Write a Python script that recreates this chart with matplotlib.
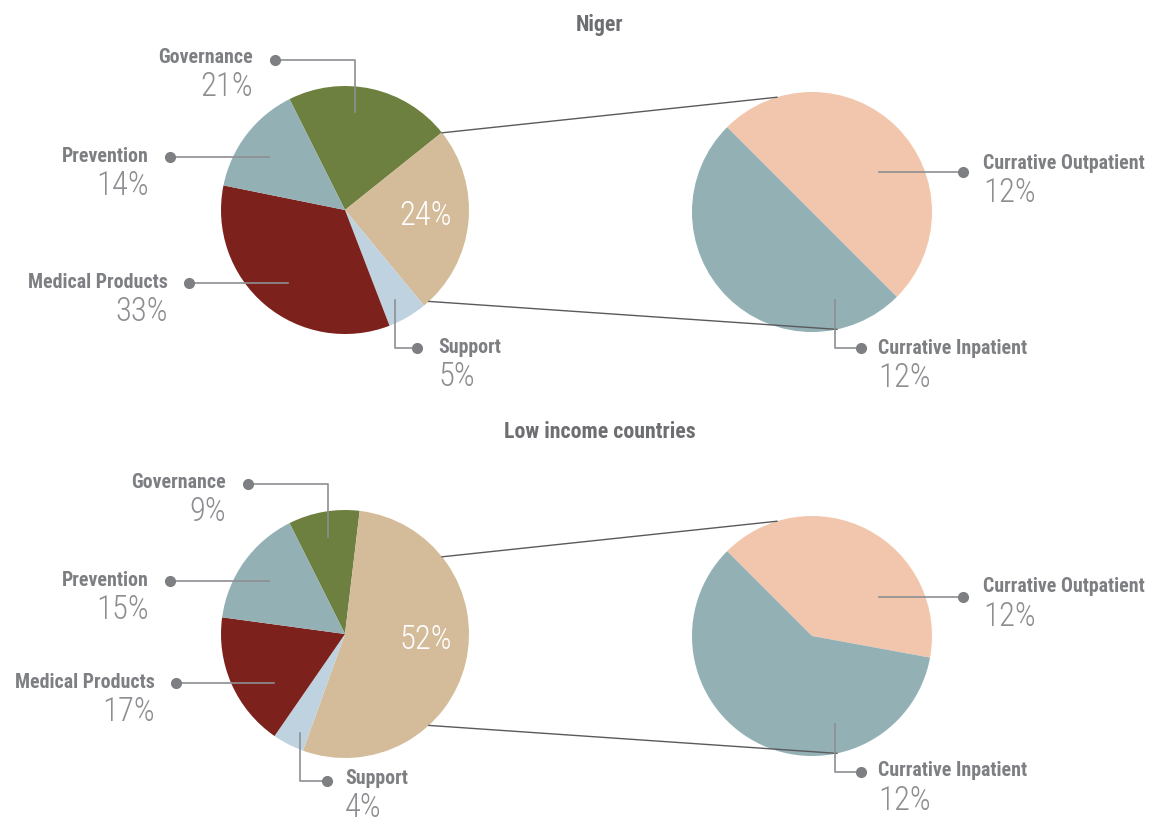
import matplotlib.pyplot as plt
from matplotlib import font_manager
import numpy as np

# --------------------------
# DATA
# --------------------------
categories = ["Governance", "Currative", "Support", "Medical Products", "Prevention"]
niger_share = [21, 24, 5, 33, 14]
lic_share = [9, 52, 4, 17, 15]

sub_categories = ["Currative Outpatient", "Currative Inpatient"]
niger_sub = [12, 12]
lic_sub = [21, 31]
niger_sub_labels = ["12%", "12%"]
lic_sub_labels = ["12%", "12%"]

# --------------------------
# STYLE
# --------------------------
W, H = 1153, 823
COLORS = ["#6e8040", "#d4bc9a", "#bfd2df", "#7d211c", "#93b0b5"]
SUB_COLORS = ["#f1c6ad", "#93b0b5"]
NAME_C = "#7d7f82"
PCT_C = "#8c8e91"
LINE_C = "#8d8f92"

# pick the narrowest family available (original uses a condensed face)
fonts = font_manager.fontManager.ttflist
names = {f.name for f in fonts}
NARROW = None
for cand in ["Roboto Condensed", "Liberation Sans Narrow", "Open Sans Condensed", "Noto Sans Condensed"]:
    if cand in names:
        NARROW = cand
        break
if NARROW:
    light = any(f.name == NARROW and f.weight in (300, "light") for f in fonts)
    NAME_FONT = dict(family=NARROW, fontweight="bold", fontsize=14.3)
    PCT_FONT = dict(family=NARROW, fontsize=23.5, fontweight=300 if light else "normal")
else:
    NAME_FONT = dict(family="DejaVu Sans", fontstretch="condensed", fontweight="bold", fontsize=12)
    PCT_FONT = dict(family="DejaVu Sans", fontstretch="condensed", fontsize=19.5)

fig = plt.figure(figsize=(W / 100, H / 100), dpi=100)
ax = fig.add_axes([0, 0, 1, 1])


def Y(y):
    # pixel row (top-down) -> axes y
    return H - y


def put_label(dot, path, text_xy, ha, name, pct, gap=30):
    xs = [p[0] for p in path] + [dot[0]]
    ys = [Y(p[1]) for p in path] + [Y(dot[1])]
    ax.plot(xs, ys, color=LINE_C, lw=1.2, zorder=3)
    ax.plot(dot[0], Y(dot[1]), "o", color="#7d7f82", ms=7, zorder=4)
    tx, ty = text_xy
    ax.text(tx, Y(ty), name, ha=ha, va="center", color=NAME_C, **NAME_FONT)
    ax.text(tx, Y(ty + gap), pct, ha=ha, va="center", color=PCT_C, **PCT_FONT)


def draw_row(values, sub_values, sub_labels, cy, layout, sub_layout, title, title_y):
    main_c = (345, Y(cy))
    sub_c = (812, Y(cy + 2))
    r_main, r_sub = 124, 120

    ax.pie(values, colors=COLORS, startangle=116.6, counterclock=False,
           center=main_c, radius=r_main, frame=True, wedgeprops=dict(linewidth=0))
    ax.pie(sub_values, colors=SUB_COLORS, startangle=135, counterclock=False,
           center=sub_c, radius=r_sub, frame=True, wedgeprops=dict(linewidth=0))

    # connectors from the currative wedge to the sub pie
    link = [(38.5, 107), (-47.5, -78)]
    for ang_main, ang_sub in link:
        a, b = np.deg2rad(ang_main), np.deg2rad(ang_sub)
        p1 = (main_c[0] + r_main * np.cos(a), main_c[1] + r_main * np.sin(a))
        p2 = (sub_c[0] + r_sub * np.cos(b), sub_c[1] + r_sub * np.sin(b))
        ax.plot([p1[0], p2[0]], [p1[1], p2[1]], color="#5a5a5a", lw=1, zorder=1)

    # value inside the currative wedge
    mid = np.deg2rad(-4.5)
    ax.text(main_c[0] + 0.65 * r_main * np.cos(mid), main_c[1] + 0.65 * r_main * np.sin(mid),
            f"{values[1]}%", ha="center", va="center", color="white", **PCT_FONT)

    for i in [0, 4, 3, 2]:
        dot, path, txy, ha = layout[categories[i]]
        put_label(dot, path, txy, ha, categories[i], f"{values[i]}%")
    for i in range(2):
        dot, path, txy, ha = sub_layout[i]
        put_label(dot, path, txy, ha, sub_categories[i], sub_labels[i])

    tfont = dict(NAME_FONT)
    tfont["fontsize"] = NAME_FONT["fontsize"] * 1.1
    ax.text(600, Y(title_y), title, ha="center", va="center", color="#6d6e71", **tfont)


top_layout = {
    "Governance": ((275, 60), [(355, 112), (355, 60)], (253, 57), "right"),
    "Prevention": ((170, 157), [(269, 157)], (149, 156), "right"),
    "Medical Products": ((189, 283), [(288, 283)], (168, 282), "right"),
    "Support": ((417, 348), [(395, 300), (395, 348)], (438, 347), "left"),
}
top_sub = [
    ((963, 172), [(879, 172)], (983, 163), "left"),
    ((861, 348), [(835, 300), (835, 348)], (878, 348), "left"),
]
bot_layout = {
    "Governance": ((248, 484), [(328, 537), (328, 484)], (226, 482), "right"),
    "Prevention": ((170, 581), [(269, 581)], (149, 580), "right"),
    "Medical Products": ((176, 683), [(274, 683)], (155, 682), "right"),
    "Support": ((327, 781), [(300, 733), (300, 781)], (345, 778), "left"),
}
bot_sub = [
    ((963, 597), [(879, 597)], (983, 587), "left"),
    ((861, 772), [(835, 724), (835, 772)], (878, 771), "left"),
]

draw_row(niger_share, niger_sub, niger_sub_labels, 210, top_layout, top_sub, "Niger", 25)
draw_row(lic_share, lic_sub, lic_sub_labels, 634, bot_layout, bot_sub, "Low income countries", 432)

ax.set_xlim(0, W)
ax.set_ylim(0, H)
ax.set_aspect("equal")
ax.axis("off")

plt.savefig("out.png", dpi=100)
plt.close()
